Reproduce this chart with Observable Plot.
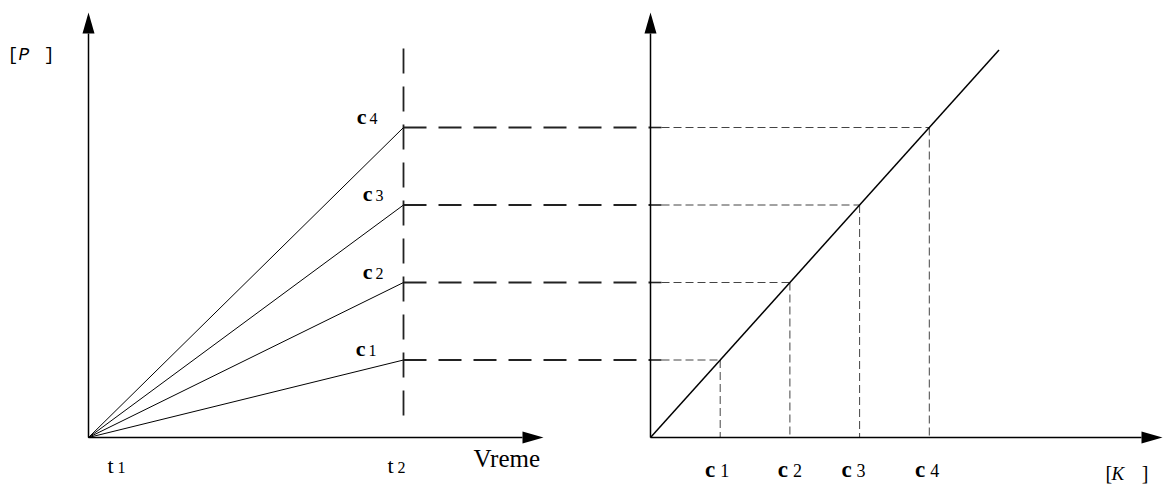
<!DOCTYPE html>
<html><head><meta charset="utf-8">
<script src="https://cdn.jsdelivr.net/npm/d3@7"></script>
<script src="https://cdn.jsdelivr.net/npm/@observablehq/plot@0.6"></script>
<style>html,body{margin:0;padding:0;background:#fff;} #chart svg{display:block;background:#fff}</style>
</head><body><div id="chart"></div>
<script>
// ---------- data ----------
const concSubscripts = ["1", "2", "3", "4"];   // c1..c4
const concentrations = [1, 2, 3, 4];           // [K] of each standard
const productAtT2   = [1, 2, 3, 4];            // [P] reached at t2 for each standard
const timeSubscripts = ["1", "2"];             // t1, t2
const times = [0, 1];                          // t1, t2
const calibK = [0, 5];                         // calibration line [K]
const calibP = [0, 5];                         // calibration line [P]
const xAxisTitle = "Vreme";
const leftYTitle = "P";
const rightXTitle = "K";

// ---------- layout ----------
const W = 1167, H = 486;
const pxP = 77.5, pxT = 315;                   // pixels per unit
const rightOrigin = (650 - 88) / pxT;          // right panel origin (in time units)
const kUnit = 69.7 / pxT;                      // time units per [K] unit
const kx = k => rightOrigin + k * kUnit;
const tipP = 425 / pxP, baseP = tipP - 21 / pxP;
const leftTipT = 455 / pxT, leftBaseT = leftTipT - 21 / pxT;
const rightTipT = (1162 - 88) / pxT, rightBaseT = rightTipT - 21 / pxT;
const t1 = times[0], t2 = times[1];

const seg = (x1, y1, x2, y2) => ({x1, y1, x2, y2});

const axes = [
  seg(t1, 0, t1, baseP),
  seg(t1, 0, leftBaseT, 0),
  seg(kx(0), 0, kx(0), baseP),
  seg(kx(0), 0, rightBaseT, 0)
];
const rays = concentrations.map((c, i) => seg(t1, 0, t2, productAtT2[i]));
const longDash = concentrations.map((c, i) => seg(t2, productAtT2[i], kx(0), productAtT2[i]));
const t2Line = [seg(t2, (437 - 48) / pxP, t2, (437 - 425) / pxP)];
const calib = [seg(kx(calibK[0]), calibP[0], kx(calibK[1]), calibP[1])];
const stubs = concentrations.map((c, i) => seg(kx(0), productAtT2[i], kx(0) + 11 / pxT, productAtT2[i]));
const thinH = concentrations.map((c, i) => seg(kx(0) + 11 / pxT, productAtT2[i], kx(c), productAtT2[i]));
const thinV = concentrations.map((c, i) => seg(kx(c), productAtT2[i], kx(c), 0));

const upTips = [{x: t1, y: tipP}, {x: kx(0), y: tipP}];
const rightTips = [{x: leftTipT, y: 0}, {x: rightTipT, y: 0}];
const arrowUp = {draw(ctx) { ctx.moveTo(0, 0); ctx.lineTo(6, 21); ctx.lineTo(-6, 21); ctx.closePath(); }};
const arrowRight = {draw(ctx) { ctx.moveTo(0, 0); ctx.lineTo(-21, 6); ctx.lineTo(-21, -6); ctx.closePath(); }};

const leftLabelNudge = [-38, -31, -31, -37];
const rightLabelNudge = [-5, -2, -8, -4];
const timeLabelNudge = [19, -16];

const serif = "Liberation Serif, Times New Roman, serif";
const mono = "Liberation Mono, monospace";
const linkOpts = (o) => Object.assign({x1: "x1", y1: "y1", x2: "x2", y2: "y2"}, o);
const txt = (x, y, s, o) => Plot.text([{x, y}], Object.assign({x: "x", y: "y", text: () => s, lineAnchor: "bottom", fill: "#000"}, o));

const leftLabelMarks = concentrations.flatMap((c, i) => [
  txt(t2, productAtT2[i], "c", {textAnchor: "end", dx: leftLabelNudge[i], dy: -4, fontWeight: "bold", fontSize: 22}),
  txt(t2, productAtT2[i], concSubscripts[i], {textAnchor: "start", dx: leftLabelNudge[i] + 3, dy: -4, fontSize: 16})
]);
const rightLabelMarks = concentrations.flatMap((c, i) => [
  txt(kx(c), 0, "c", {textAnchor: "end", dx: rightLabelNudge[i], dy: 39, fontWeight: "bold", fontSize: 23}),
  txt(kx(c), 0, concSubscripts[i], {textAnchor: "start", dx: rightLabelNudge[i] + 5, dy: 39, fontSize: 18})
]);
const timeLabelMarks = times.flatMap((t, i) => [
  txt(t, 0, "t", {textAnchor: "start", dx: timeLabelNudge[i], dy: 35, fontSize: 22}),
  txt(t, 0, timeSubscripts[i], {textAnchor: "start", dx: timeLabelNudge[i] + 10, dy: 35, fontSize: 16})
]);

const chart = Plot.plot({
  width: W, height: H,
  marginTop: 0, marginRight: 0, marginBottom: 0, marginLeft: 0,
  x: {domain: [0, 1], range: [88, 403], axis: null},
  y: {domain: [0, 4], range: [437, 127], axis: null},
  style: {background: "#fff", fontFamily: serif},
  marks: [
    Plot.link(thinH, linkOpts({stroke: "#444", strokeWidth: 1, strokeDasharray: "8,4"})),
    Plot.link(thinV, linkOpts({stroke: "#444", strokeWidth: 1, strokeDasharray: "8,4"})),
    Plot.link(stubs, linkOpts({stroke: "#222", strokeWidth: 1.6})),
    Plot.link(longDash, linkOpts({stroke: "#222", strokeWidth: 1.8, strokeDasharray: "23,12"})),
    Plot.link(t2Line, linkOpts({stroke: "#222", strokeWidth: 1.8, strokeDasharray: "25,13"})),
    Plot.link(rays, linkOpts({stroke: "#000", strokeWidth: 1})),
    Plot.link(calib, linkOpts({stroke: "#000", strokeWidth: 1.5})),
    Plot.link(axes, linkOpts({stroke: "#000", strokeWidth: 1.5})),
    Plot.dot(upTips, {x: "x", y: "y", symbol: arrowUp, fill: "#000", stroke: "none"}),
    Plot.dot(rightTips, {x: "x", y: "y", symbol: arrowRight, fill: "#000", stroke: "none"}),
    ...leftLabelMarks,
    ...rightLabelMarks,
    ...timeLabelMarks,
    txt(t2, 0, xAxisTitle, {textAnchor: "start", dx: 70, dy: 29, fontSize: 25}),
    // [P ]
    txt(t1, tipP, "[", {textAnchor: "start", dx: -81, dy: 47, fontSize: 18, fontFamily: mono}),
    txt(t1, tipP, leftYTitle, {textAnchor: "start", dx: -70, dy: 47, fontSize: 18, fontStyle: "italic", fontFamily: mono}),
    txt(t1, tipP, "]", {textAnchor: "end", dx: -34, dy: 47, fontSize: 18, fontFamily: mono}),
    // [K ]
    txt(rightTipT, 0, "[", {textAnchor: "start", dx: -57, dy: 42, fontSize: 20}),
    txt(rightTipT, 0, rightXTitle, {textAnchor: "start", dx: -51, dy: 42, fontSize: 19, fontStyle: "italic"}),
    txt(rightTipT, 0, "]", {textAnchor: "end", dx: -14, dy: 42, fontSize: 20})
  ]
});
document.getElementById("chart").appendChild(chart);
</script>
</body></html>
